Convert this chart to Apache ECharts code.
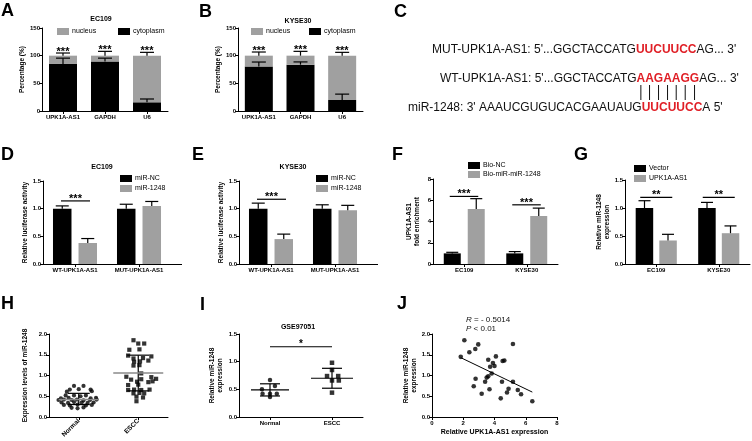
<!DOCTYPE html>
<html><head><meta charset="utf-8">
<script src="https://cdn.jsdelivr.net/npm/echarts@6/dist/echarts.min.js"></script>
<style>html,body{margin:0;padding:0;background:#fff}#c{width:752px;height:441px}</style>
</head><body><div id="c"></div>
<script>
// ---------------- DATA ----------------
// A / B : subcellular fractionation (%)
const fracCats = ['UPK1A-AS1', 'GAPDH', 'U6'];
const aCyto = [85, 89.5, 15.7];
const aCytoSD = [10.5, 6, 6];
const aNuc = [15, 10.5, 84.3];
const aNucSD = [4.8, 7.8, 6];
const bCyto = [80.5, 83.7, 20];
const bCytoSD = [8, 5, 10.5];
const bNuc = [19.5, 16.3, 80];
const bNucSD = [6.6, 7.8, 6];
// D / E : luciferase
const lucCats = ['WT-UPK1A-AS1', 'MUT-UPK1A-AS1'];
const dNC = [1.0, 1.0], dNCSD = [0.05, 0.08];
const dMiR = [0.38, 1.05], dMiRSD = [0.08, 0.08];
const dSig = [1.14];
const eNC = [1.0, 1.0], eNCSD = [0.1, 0.07];
const eMiR = [0.45, 0.97], eMiRSD = [0.09, 0.09];
const eSig = [1.17];
// F / G
const cellCats = ['EC109', 'KYSE30'];
const fNC = [1.0, 1.0], fNCSD = [0.1, 0.17];
const fMiR = [5.17, 4.52], fMiRSD = [0.98, 0.74];
const fSig = [6.36, 5.57];
const gVec = [1.0, 1.0], gVecSD = [0.13, 0.1];
const gUPK = [0.42, 0.55], gUPKSD = [0.11, 0.13];
const gSig = [1.19, 1.19];
// H : scatter (x = position in swarm, y = level)
const hGroups = ['Normal', 'ESCC'];
const hNormX = [0.42,0.58,0.35,0.5,0.7,0.3,0.72,0.28,0.42,0.53,0.62,0.2,0.33,0.7,0.79,0.16,0.25,0.38,0.47,0.58,0.69,0.8,0.21,0.32,0.42,0.55,0.65,0.75,0.25,0.35,0.48,0.62,0.72,0.38,0.48,0.58];
const hNormY = [0.75,0.75,0.66,0.67,0.66,0.61,0.62,0.52,0.52,0.5,0.52,0.45,0.46,0.45,0.46,0.41,0.42,0.41,0.42,0.4,0.41,0.42,0.35,0.34,0.36,0.35,0.34,0.35,0.29,0.28,0.3,0.28,0.29,0.22,0.21,0.23];
const hEsccX = [1.42,1.5,1.6,1.35,1.52,1.33,1.72,1.42,1.58,1.43,1.53,1.67,1.42,1.52,1.3,1.72,1.38,1.55,1.8,1.48,1.67,1.74,1.33,1.5,1.33,1.43,1.55,1.69,1.42,1.52,1.6,1.47,1.58,1.47,1.55];
const hEsccY = [1.85,1.77,1.77,1.62,1.63,1.48,1.46,1.41,1.42,1.33,1.34,1.36,1.24,1.25,0.97,0.96,0.9,0.91,0.92,0.85,0.84,0.86,0.77,0.78,0.65,0.66,0.65,0.66,0.57,0.58,0.57,0.49,0.47,0.38,1.05];
const hMean = [0.42, 1.06], hLo = [0.3, 0.63], hHi = [0.57, 1.49];
// I : GSE97051
const iGroups = ['Normal', 'ESCC'];
const iNormX = [0.5, 0.58, 0.37, 0.38, 0.5, 0.61, 0.5];
const iNormY = [0.67, 0.56, 0.5, 0.42, 0.42, 0.42, 0.36];
const iEsccX = [1.5, 1.5, 1.42, 1.6, 1.5, 1.61, 1.5];
const iEsccY = [0.98, 0.85, 0.74, 0.74, 0.66, 0.66, 0.44];
const iMean = [0.49, 0.7], iLo = [0.38, 0.52], iHi = [0.6, 0.88];
const iSig = [1.27];
// J : correlation
const jX = [1.84,2.07,2.39,2.77,2.96,2.67,2.79,3.18,3.4,3.5,3.6,3.6,3.68,3.72,3.82,3.9,4.0,4.09,4.4,4.48,4.52,4.63,4.8,4.9,5.18,5.18,5.49,5.7,6.42];
const jY = [1.45,1.85,1.56,1.64,1.75,0.74,0.92,0.56,0.85,0.95,0.98,1.38,0.67,1.21,1.05,1.3,1.23,1.46,0.45,0.85,1.35,1.36,0.59,0.68,1.76,0.85,0.65,0.55,0.38];
const jFit = [[1.84, 1.43], [6.42, 0.6]];
const jStats = ['- 0.5014', '< 0.01'];

// ---------------- STYLE HELPERS ----------------
const FONT = '"Liberation Sans", Arial, sans-serif';
const BLK = '#000', GRY = '#a0a0a0';
function xCat(gi, cats, extra) {
  return Object.assign({type:'category', gridIndex:gi, data:cats, position:'bottom',
    axisLine:{show:true, onZero:false, lineStyle:{color:BLK, width:1}},
    axisTick:{show:true, alignWithLabel:true, length:3, lineStyle:{color:BLK}},
    axisLabel:{interval:0, hideOverlap:false, fontSize:6, fontWeight:'bold', color:BLK, margin:3, fontFamily:FONT},
    splitLine:{show:false}}, extra || {});
}
function yVal(gi, min, max, interval, name, gap, dec) {
  return {type:'value', gridIndex:gi, min:min, max:max, interval:interval, name:name,
    nameLocation:'middle', nameGap:gap,
    nameTextStyle:{fontSize:6.5, fontWeight:'bold', color:BLK, fontFamily:FONT, lineHeight:8},
    axisLine:{show:true, lineStyle:{color:BLK, width:1}},
    axisTick:{show:true, length:3, lineStyle:{color:BLK}},
    axisLabel:{fontSize:6, fontWeight:'bold', color:BLK, margin:2, fontFamily:FONT,
      formatter: v => dec ? v.toFixed(dec) : String(v)},
    splitLine:{show:false}};
}
function bar(name, xi, yi, data, color, bw, gap, stack) {
  const s = {type:'bar', name:name, xAxisIndex:xi, yAxisIndex:yi, data:data, barWidth:bw,
    itemStyle:{color:color}, silent:true};
  if (gap !== undefined) s.barGap = gap;
  if (stack) s.stack = stack;
  return s;
}
function errSeries(xi, yi, base, sd, off, cap) {
  return {type:'custom', xAxisIndex:xi, yAxisIndex:yi, z:5, silent:true,
    data: base.map((v, i) => [i, v, v + sd[i]]),
    renderItem: (p, api) => {
      const p0 = api.coord([api.value(0), api.value(1)]);
      const p1 = api.coord([api.value(0), api.value(2)]);
      const x = p0[0] + off;
      const st = {stroke:BLK, lineWidth:1.2};
      return {type:'group', children:[
        {type:'line', shape:{x1:x, y1:p0[1], x2:x, y2:p1[1]}, style:st},
        {type:'line', shape:{x1:x - cap, y1:p1[1], x2:x + cap, y2:p1[1]}, style:st}]};
    }};
}
function starSeries(xi, yi, tops, label) {
  return {type:'custom', xAxisIndex:xi, yAxisIndex:yi, z:6, silent:true,
    data: tops.map((v, i) => [i, v]),
    renderItem: (p, api) => {
      const c = api.coord([api.value(0), api.value(1)]);
      return {type:'text', x:c[0], y:c[1] - 1,
        style:{text:label, fill:BLK, font:'bold 11px ' + FONT, align:'center', verticalAlign:'middle'}};
    }};
}
function sigSeries(xi, yi, ys, label, x1, x2) {
  return {type:'custom', xAxisIndex:xi, yAxisIndex:yi, z:6, silent:true,
    data: ys.map((v, i) => [i, v]),
    renderItem: (p, api) => {
      const c = api.coord([api.value(0), api.value(1)]);
      return {type:'group', children:[
        {type:'line', shape:{x1:c[0] + x1, y1:c[1], x2:c[0] + x2, y2:c[1]}, style:{stroke:BLK, lineWidth:1.2}},
        {type:'text', x:c[0] + (x1 + x2) / 2, y:c[1] - 2,
          style:{text:label, fill:BLK, font:'bold 11px ' + FONT, align:'center', verticalAlign:'middle'}}]};
    }};
}
function meanSd(xi, yi, means, lo, hi, mw, cw, mColor, mWidth) {
  return {type:'custom', xAxisIndex:xi, yAxisIndex:yi, z:6, silent:true,
    data: means.map((m, i) => [i + 0.5, m, lo[i], hi[i], i]),
    renderItem: (p, api) => {
      const x = api.value(0), k = api.value(4);
      const pm = api.coord([x, api.value(1)]), pl = api.coord([x, api.value(2)]), ph = api.coord([x, api.value(3)]);
      const st = {stroke:BLK, lineWidth:1.2};
      return {type:'group', children:[
        {type:'line', shape:{x1:pl[0], y1:pl[1], x2:ph[0], y2:ph[1]}, style:st},
        {type:'line', shape:{x1:pl[0] - cw, y1:pl[1], x2:pl[0] + cw, y2:pl[1]}, style:st},
        {type:'line', shape:{x1:ph[0] - cw, y1:ph[1], x2:ph[0] + cw, y2:ph[1]}, style:st},
        {type:'line', shape:{x1:pm[0] - mw[k], y1:pm[1], x2:pm[0] + mw[k], y2:pm[1]}, style:{stroke:mColor, lineWidth:mWidth}}]};
    }};
}
function spanSig(xi, yi, xs, y, label) {
  return {type:'custom', xAxisIndex:xi, yAxisIndex:yi, z:6, silent:true,
    data: [[xs[0], y, xs[1]]],
    renderItem: (p, api) => {
      const a = api.coord([api.value(0), api.value(1)]), b = api.coord([api.value(2), api.value(1)]);
      return {type:'group', children:[
        {type:'line', shape:{x1:a[0], y1:a[1], x2:b[0], y2:b[1]}, style:{stroke:BLK, lineWidth:1.2}},
        {type:'text', x:(a[0] + b[0]) / 2, y:a[1] - 2,
          style:{text:label, fill:BLK, font:'bold 10px ' + FONT, align:'center', verticalAlign:'middle'}}]};
    }};
}
function leg(name, left, cy) {
  return {data:[name], left:left, top:cy - 4, padding:0, itemWidth:12, itemHeight:7, icon:'rect',
    selectedMode:false, textStyle:{fontSize:7, color:BLK, fontFamily:FONT, padding:[0,0,0,-2]}};
}
const sum = (a, b) => a.map((v, i) => v + b[i]);
const tops = (a, b, c) => a.map((v, i) => v + b[i] + c[i]);
const pts = (xs, ys) => xs.map((x, i) => [x, ys[i]]);

// ---------------- LAYOUT ----------------
const grids = [
  {left:42, top:28, width:126, height:83},    // A
  {left:238, top:28, width:125, height:83},   // B
  {left:43, top:181, width:128, height:83},   // D
  {left:239, top:181, width:128, height:83},  // E
  {left:433, top:179, width:125, height:85},  // F
  {left:625, top:180, width:125, height:84},  // G
  {left:49, top:334, width:119, height:83},   // H
  {left:239, top:334, width:124, height:83},  // I
  {left:432, top:334, width:125, height:83}   // J
].map(g => Object.assign({outerBoundsMode:'none', containLabel:false}, g));

const xAxes = [
  xCat(0, fracCats), xCat(1, fracCats), xCat(2, lucCats), xCat(3, lucCats),
  xCat(4, cellCats), xCat(5, cellCats),
  xCat(6, hGroups, {axisLabel:{interval:0, fontSize:6.5, fontWeight:'bold', color:BLK, margin:3, rotate:45, fontFamily:FONT}}),
  {type:'value', gridIndex:6, min:0, max:2, show:false, position:'bottom'},
  xCat(7, iGroups),
  {type:'value', gridIndex:7, min:0, max:2, show:false, position:'bottom'},
  {type:'value', gridIndex:8, min:0, max:8, interval:2, position:'bottom', name:'Relative UPK1A-AS1 expression',
    nameLocation:'middle', nameGap:12,
    nameTextStyle:{fontSize:7, fontWeight:'bold', color:BLK, fontFamily:FONT},
    axisLine:{show:true, onZero:false, lineStyle:{color:BLK, width:1}},
    axisTick:{show:true, length:3, lineStyle:{color:BLK}},
    axisLabel:{fontSize:6, fontWeight:'bold', color:BLK, margin:3, fontFamily:FONT},
    splitLine:{show:false}}
];
const yAxes = [
  yVal(0, 0, 150, 50, 'Percentage (%)', 12, 0),
  yVal(1, 0, 150, 50, 'Percentage (%)', 13, 0),
  yVal(2, 0, 1.5, 0.5, 'Relative luciferase activity', 14, 1),
  yVal(3, 0, 1.5, 0.5, 'Relative luciferase activity', 14, 1),
  yVal(4, 0, 8, 2, 'UPK1A-AS1\nfold enrichment', 12, 0),
  yVal(5, 0, 1.5, 0.5, 'Relative miR-1248\nexpression', 13, 1),
  yVal(6, 0, 2, 0.5, 'Expression levels of miR-1248', 20, 1),
  yVal(7, 0, 1.5, 0.5, 'Relative miR-1248\nexpression', 15, 1),
  yVal(8, 0, 2, 0.5, 'Relative miR-1248\nexpression', 13, 1)
];

const series = [
  // A
  bar('cytoplasm', 0, 0, aCyto, BLK, 28, undefined, 'A'),
  bar('nucleus', 0, 0, aNuc, GRY, 28, undefined, 'A'),
  errSeries(0, 0, aCyto, aCytoSD, 0, 7),
  errSeries(0, 0, sum(aCyto, aNuc), aNucSD, 0, 7),
  starSeries(0, 0, tops(aCyto, aNuc, aNucSD), '***'),
  // B
  bar('cytoplasm', 1, 1, bCyto, BLK, 28, undefined, 'B'),
  bar('nucleus', 1, 1, bNuc, GRY, 28, undefined, 'B'),
  errSeries(1, 1, bCyto, bCytoSD, 0, 7),
  errSeries(1, 1, sum(bCyto, bNuc), bNucSD, 0, 7),
  starSeries(1, 1, tops(bCyto, bNuc, bNucSD), '***'),
  // D
  bar('miR-NC', 2, 2, dNC, BLK, 18.5, '38%'),
  bar('miR-1248', 2, 2, dMiR, GRY, 18.5, '38%'),
  errSeries(2, 2, dNC, dNCSD, -12.75, 6.5),
  errSeries(2, 2, dMiR, dMiRSD, 12.75, 6.5),
  sigSeries(2, 2, dSig, '***', -14, 15),
  // E
  bar('miR-NC', 3, 3, eNC, BLK, 18.5, '38%'),
  bar('miR-1248', 3, 3, eMiR, GRY, 18.5, '38%'),
  errSeries(3, 3, eNC, eNCSD, -12.75, 6.5),
  errSeries(3, 3, eMiR, eMiRSD, 12.75, 6.5),
  sigSeries(3, 3, eSig, '***', -14, 15),
  // F
  bar('Bio-NC', 4, 4, fNC, BLK, 17, '41%'),
  bar('Bio-miR-miR-1248', 4, 4, fMiR, GRY, 17, '41%'),
  errSeries(4, 4, fNC, fNCSD, -12, 6),
  errSeries(4, 4, fMiR, fMiRSD, 12, 6),
  sigSeries(4, 4, fSig, '***', -14.5, 14),
  // G
  bar('Vector', 5, 5, gVec, BLK, 17.5, '35%'),
  bar('UPK1A-AS1', 5, 5, gUPK, GRY, 17.5, '35%'),
  errSeries(5, 5, gVec, gVecSD, -11.75, 6),
  errSeries(5, 5, gUPK, gUPKSD, 11.75, 6),
  sigSeries(5, 5, gSig, '**', -16, 16),
  // H
  {type:'scatter', xAxisIndex:7, yAxisIndex:6, data:pts(hNormX, hNormY), symbol:'circle', symbolSize:4.2, itemStyle:{color:BLK}, silent:true},
  {type:'scatter', xAxisIndex:7, yAxisIndex:6, data:pts(hEsccX, hEsccY), symbol:'rect', symbolSize:4.2, itemStyle:{color:BLK}, silent:true},
  meanSd(7, 6, hMean, hLo, hHi, [20, 25], 11, '#8a8a8a', 1.6),
  // I
  {type:'scatter', xAxisIndex:9, yAxisIndex:7, data:pts(iNormX, iNormY), symbol:'circle', symbolSize:4.5, itemStyle:{color:BLK}, silent:true},
  {type:'scatter', xAxisIndex:9, yAxisIndex:7, data:pts(iEsccX, iEsccY), symbol:'rect', symbolSize:4.5, itemStyle:{color:BLK}, silent:true},
  meanSd(9, 7, iMean, iLo, iHi, [19, 21], 10, BLK, 1.2),
  spanSig(9, 7, [0.5, 1.5], iSig[0], '*'),
  // J
  {type:'scatter', xAxisIndex:10, yAxisIndex:8, data:pts(jX, jY), symbol:'circle', symbolSize:4.6, itemStyle:{color:BLK}, silent:true},
  {type:'line', xAxisIndex:10, yAxisIndex:8, data:jFit, symbol:'none', lineStyle:{color:BLK, width:1}, silent:true}
];

const legends = [
  leg('nucleus', 57, 32), leg('cytoplasm', 118, 32),
  leg('nucleus', 251, 32), leg('cytoplasm', 309, 32),
  leg('miR-NC', 120, 179), leg('miR-1248', 120, 189),
  leg('miR-NC', 316, 179), leg('miR-1248', 316, 189),
  leg('Bio-NC', 468, 166), leg('Bio-miR-miR-1248', 468, 175),
  leg('Vector', 634, 169), leg('UPK1A-AS1', 634, 179)
];

// ---------------- FREE TEXT ----------------
const graphic = [];
function txt(t, x, y, font, align) {
  graphic.push({type:'text', x:x, y:y, silent:true,
    style:{text:t, fill:BLK, font:font, align:align || 'left', verticalAlign:'middle'}});
}
[['A',1,11],['B',199,12],['C',394,12],['D',1,155],['E',192,155],['F',392,155],['G',574,155],['H',1,304],['I',200,305],['J',397,304]]
  .forEach(l => txt(l[0], l[1], l[2], 'bold 18px ' + FONT));
[['EC109',101,19],['KYSE30',298,21],['EC109',102,167],['KYSE30',293,167],['GSE97051',298,327]]
  .forEach(t => txt(t[0], t[1], t[2], 'bold 7px ' + FONT, 'center'));

// Panel C sequences
const seqLines = [
  {x:432, y:50, pre:"MUT-UPK1A-AS1: 5'...GGCTACCATG", red:'UUCUUCC', post:"AG... 3'"},
  {x:440, y:79, pre:"WT-UPK1A-AS1: 5'...GGCTACCATG", red:'AAGAAGG', post:"AG... 3'"},
  {x:408, y:108, pre:"miR-1248: 3' AAAUCGUGUCACGAAUAUG", red:'UUCUUCC', post:"A 5'"}
];
const RED = '#e01f26';
seqLines.forEach(s => {
  graphic.push({type:'text', x:s.x, y:s.y, silent:true, style:{
    text:'{n|' + s.pre + '}{r|' + s.red + '}{n|' + s.post + '}',
    verticalAlign:'middle', align:'left',
    rich:{n:{fill:'#111', font:'12px ' + FONT}, r:{fill:RED, font:'bold 12px ' + FONT}}}});
});
const cv = document.createElement('canvas').getContext('2d');
cv.font = '12px ' + FONT;
let bx = seqLines[1].x + cv.measureText(seqLines[1].pre).width;
cv.font = 'bold 12px ' + FONT;
for (const ch of seqLines[1].red) {
  const w = cv.measureText(ch).width;
  graphic.push({type:'line', silent:true, shape:{x1:bx + w / 2, y1:85, x2:bx + w / 2, y2:100}, style:{stroke:'#111', lineWidth:1}});
  bx += w;
}
// J statistics
graphic.push({type:'text', x:466, y:320, silent:true, style:{text:'{i|R}{n| = ' + jStats[0] + '}', verticalAlign:'middle',
  rich:{i:{font:'italic 8px ' + FONT, fill:'#111'}, n:{font:'8px ' + FONT, fill:'#111'}}}});
graphic.push({type:'text', x:466, y:329, silent:true, style:{text:'{i|P}{n| ' + jStats[1] + '}', verticalAlign:'middle',
  rich:{i:{font:'italic 8px ' + FONT, fill:'#111'}, n:{font:'8px ' + FONT, fill:'#111'}}}});
// axis line extensions (D, E) as in the original figure
graphic.push({type:'line', silent:true, shape:{x1:171, y1:264.5, x2:182, y2:264.5}, style:{stroke:BLK, lineWidth:1}});
graphic.push({type:'line', silent:true, shape:{x1:367, y1:264.5, x2:378, y2:264.5}, style:{stroke:BLK, lineWidth:1}});

const chart = echarts.init(document.getElementById('c'), null, {renderer:'canvas'});
chart.setOption({
  animation:false, backgroundColor:'#fff', textStyle:{fontFamily:FONT},
  grid:grids, xAxis:xAxes, yAxis:yAxes, legend:legends, series:series, graphic:graphic
});
</script></body></html>
